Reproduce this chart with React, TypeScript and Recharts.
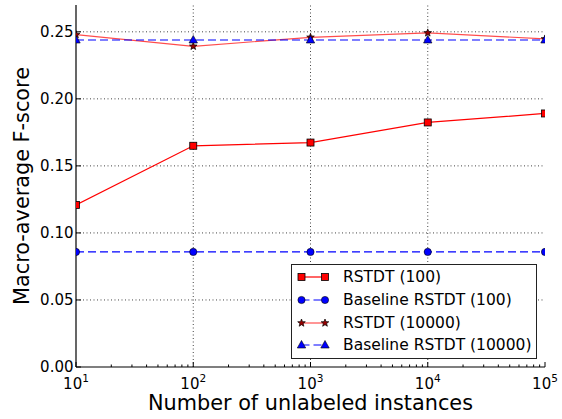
import React from "react";
import { LineChart, Line, XAxis, YAxis, ReferenceLine, Legend } from "recharts";

// values
const X_VALUES = [10, 100, 1000, 10000, 100000];
const RSTDT_100 = [0.1209, 0.165, 0.1674, 0.1824, 0.1891];
const BASELINE_100 = [0.0858, 0.0858, 0.0858, 0.0858, 0.0858];
const RSTDT_10000 = [0.2479, 0.2392, 0.2459, 0.2492, 0.2447];
const BASELINE_10000 = [0.2439, 0.2439, 0.2439, 0.2439, 0.2439];

const X_MAJOR = [10, 100, 1000, 10000, 100000];
const X_MINOR_STEPS = [2, 3, 4, 5, 6, 7, 8, 9];
const Y_TICKS = [0, 0.05, 0.1, 0.15, 0.2, 0.25];
const X_DOMAIN = [10, 100000];
const Y_DOMAIN = [0, 0.27];

const FONT = "'DejaVu Sans', Verdana, sans-serif";
const RED = "#ff0000";
const BLUE = "#0000ff";

const X_TICKS = [
  ...X_MAJOR,
  ...X_MAJOR.slice(0, -1).flatMap((d) => X_MINOR_STEPS.map((m) => d * m)),
].sort((a, b) => a - b);

const data = X_VALUES.map((x, i) => ({
  x,
  rstdt100: RSTDT_100[i],
  base100: BASELINE_100[i],
  rstdt10000: RSTDT_10000[i],
  base10000: BASELINE_10000[i],
}));

const isMajor = (v: number) => X_MAJOR.includes(v);

function starPoints(cx: number, cy: number, r: number) {
  const pts: string[] = [];
  for (let i = 0; i < 10; i++) {
    const rad = i % 2 === 0 ? r : r * 0.42;
    const a = -Math.PI / 2 + (i * Math.PI) / 5;
    pts.push(`${cx + rad * Math.cos(a)},${cy + rad * Math.sin(a)}`);
  }
  return pts.join(" ");
}

function Marker({ kind, cx, cy }: { kind: string; cx: number; cy: number }) {
  if (kind === "square")
    return <rect x={cx - 3.5} y={cy - 3.5} width={7} height={7} fill={RED} stroke="#000" strokeWidth={0.8} />;
  if (kind === "circle")
    return <circle cx={cx} cy={cy} r={3.6} fill={BLUE} stroke="#000" strokeWidth={0.6} />;
  if (kind === "star")
    return <polygon points={starPoints(cx, cy, 4)} fill="#990000" stroke="#000" strokeWidth={0.7} />;
  return (
    <polygon
      points={`${cx},${cy - 4.5} ${cx + 4.2},${cy + 3} ${cx - 4.2},${cy + 3}`}
      fill={BLUE}
      stroke="#000"
      strokeWidth={0.6}
    />
  );
}

// markers sitting on the left/right spine are cut in half, as in matplotlib
const dotOf = (kind: string) => (p: any) => {
  const x = p.payload?.x;
  const side = x <= X_DOMAIN[0] ? "left" : x >= X_DOMAIN[1] ? "right" : null;
  const id = `clip-${kind}-${p.index}`;
  if (!side) return <Marker key={id} kind={kind} cx={p.cx} cy={p.cy} />;
  return (
    <g key={id}>
      <defs>
        <clipPath id={id}>
          <rect x={side === "left" ? p.cx : p.cx - 10} y={p.cy - 10} width={10} height={20} />
        </clipPath>
      </defs>
      <g clipPath={`url(#${id})`}>
        <Marker kind={kind} cx={p.cx} cy={p.cy} />
      </g>
    </g>
  );
};

const SERIES = [
  { key: "rstdt100", name: "RSTDT (100)", color: RED, opacity: 1, dash: undefined, marker: "square" },
  { key: "base100", name: "Baseline RSTDT (100)", color: BLUE, opacity: 1, dash: "8 4", marker: "circle" },
  { key: "rstdt10000", name: "RSTDT (10000)", color: RED, opacity: 0.7, dash: undefined, marker: "star" },
  { key: "base10000", name: "Baseline RSTDT (10000)", color: BLUE, opacity: 1, dash: "8 4", marker: "triangle" },
];

function BottomTick(props: any) {
  const { x, y, payload } = props;
  const v = payload.value;
  const major = isMajor(v);
  return (
    <g>
      <line x1={x} y1={y} x2={x} y2={y - (major ? 5 : 2.5)} stroke="#000" strokeWidth={1} />
      {major && (
        <text x={x} y={y + 22} textAnchor="middle" fontSize={15} fontFamily={FONT} fill="#000">
          10
          <tspan dy={-7} fontSize={10.5}>
            {Math.round(Math.log10(v))}
          </tspan>
        </text>
      )}
    </g>
  );
}

function TopTick(props: any) {
  const { x, y, payload } = props;
  const major = isMajor(payload.value);
  return <line x1={x} y1={y} x2={x} y2={y + (major ? 5 : 2.5)} stroke="#000" strokeWidth={1} />;
}

function LeftTick(props: any) {
  const { x, y, payload } = props;
  return (
    <g>
      <line x1={x} y1={y} x2={x + 5} y2={y} stroke="#000" strokeWidth={1} />
      <text x={x - 2.5} y={y + 5} textAnchor="end" fontSize={15} fontFamily={FONT} fill="#000">
        {payload.value.toFixed(2)}
      </text>
    </g>
  );
}

function RightTick(props: any) {
  const { x, y } = props;
  return <line x1={x} y1={y} x2={x - 5} y2={y} stroke="#000" strokeWidth={1} />;
}

function LegendBox() {
  return (
    <div
      style={{
        width: 246,
        height: 95,
        boxSizing: "border-box",
        border: "1.2px solid #222",
        background: "#fff",
        paddingTop: 1,
        fontFamily: FONT,
        fontSize: 15.5,
        color: "#000",
      }}
    >
      {SERIES.map((s) => (
        <div key={s.key} style={{ height: 22.7, display: "flex", alignItems: "center" }}>
          <svg width={48} height={22} style={{ flex: "none" }}>
            <line
              x1={9.5}
              y1={11}
              x2={33}
              y2={11}
              stroke={s.color}
              strokeOpacity={s.opacity}
              strokeWidth={1.2}
              strokeDasharray={s.dash}
            />
            <Marker kind={s.marker} cx={9.5} cy={11} />
            <Marker kind={s.marker} cx={33} cy={11} />
          </svg>
          <span style={{ marginLeft: 3, whiteSpace: "nowrap" }}>{s.name}</span>
        </div>
      ))}
    </div>
  );
}

export default function App() {
  return (
    <div style={{ position: "absolute", left: 0, top: 0, width: 562, height: 419, background: "#fff" }}>
      <LineChart width={562} height={419} data={data} margin={{ top: 5, right: 17, bottom: 0, left: 0 }}>
        {X_MAJOR.filter((v) => v > X_DOMAIN[0] && v < X_DOMAIN[1]).map((v) => (
          <ReferenceLine
            key={`gx${v}`}
            x={v}
            xAxisId="bottom"
            yAxisId="left"
            stroke="#444"
            strokeDasharray="1 2.5"
            strokeWidth={1}
          />
        ))}
        {Y_TICKS.filter((v) => v > Y_DOMAIN[0]).map((v) => (
          <ReferenceLine
            key={`gy${v}`}
            y={v}
            xAxisId="bottom"
            yAxisId="left"
            stroke="#444"
            strokeDasharray="1 2.5"
            strokeWidth={1}
          />
        ))}
        <XAxis
          xAxisId="bottom"
          dataKey="x"
          type="number"
          scale="log"
          domain={X_DOMAIN}
          allowDataOverflow
          ticks={X_TICKS}
          interval={0}
          height={52}
          tickSize={0}
          tickMargin={0}
          tickLine={false}
          axisLine={{ stroke: "#000", strokeWidth: 1.2 }}
          tick={<BottomTick />}
          label={{
            content: ({ viewBox }: any) => (
              <text
                x={viewBox.x + viewBox.width / 2}
                y={viewBox.y + 43}
                textAnchor="middle"
                fontSize={20.8}
                fontFamily={FONT}
                fill="#000"
              >
                Number of unlabeled instances
              </text>
            ),
          }}
        />
        <XAxis
          xAxisId="top"
          orientation="top"
          dataKey="x"
          type="number"
          scale="log"
          domain={X_DOMAIN}
          allowDataOverflow
          ticks={X_TICKS}
          interval={0}
          height={0}
          tickSize={0}
          tickMargin={0}
          tickLine={false}
          axisLine={{ stroke: "#000", strokeWidth: 1.2 }}
          tick={<TopTick />}
        />
        <YAxis
          yAxisId="left"
          type="number"
          domain={Y_DOMAIN}
          allowDataOverflow
          ticks={Y_TICKS}
          interval={0}
          width={76}
          tickSize={0}
          tickMargin={0}
          tickLine={false}
          axisLine={{ stroke: "#000", strokeWidth: 1.2 }}
          tick={<LeftTick />}
          label={{
            content: ({ viewBox }: any) => {
              const cx = 29;
              const cy = viewBox.y + viewBox.height / 2;
              return (
                <text
                  x={cx}
                  y={cy}
                  transform={`rotate(-90, ${cx}, ${cy})`}
                  textAnchor="middle"
                  fontSize={20.8}
                  fontFamily={FONT}
                  fill="#000"
                >
                  Macro-average F-score
                </text>
              );
            },
          }}
        />
        <YAxis
          yAxisId="right"
          orientation="right"
          type="number"
          domain={Y_DOMAIN}
          allowDataOverflow
          ticks={Y_TICKS}
          interval={0}
          width={0}
          tickSize={0}
          tickMargin={0}
          tickLine={false}
          axisLine={{ stroke: "#000", strokeWidth: 1.2 }}
          tick={<RightTick />}
        />
        {SERIES.map((s) => (
          <Line
            key={s.key}
            xAxisId="bottom"
            yAxisId="left"
            type="linear"
            dataKey={s.key}
            name={s.name}
            stroke={s.color}
            strokeOpacity={s.opacity}
            strokeWidth={1.2}
            strokeDasharray={s.dash}
            dot={dotOf(s.marker)}
            activeDot={false}
            isAnimationActive={false}
          />
        ))}
        <Legend
          layout="horizontal"
          verticalAlign="middle"
          align="center"
          wrapperStyle={{ left: 291, top: 264, width: 246, height: 95 }}
          content={() => <LegendBox />}
        />
      </LineChart>
    </div>
  );
}
